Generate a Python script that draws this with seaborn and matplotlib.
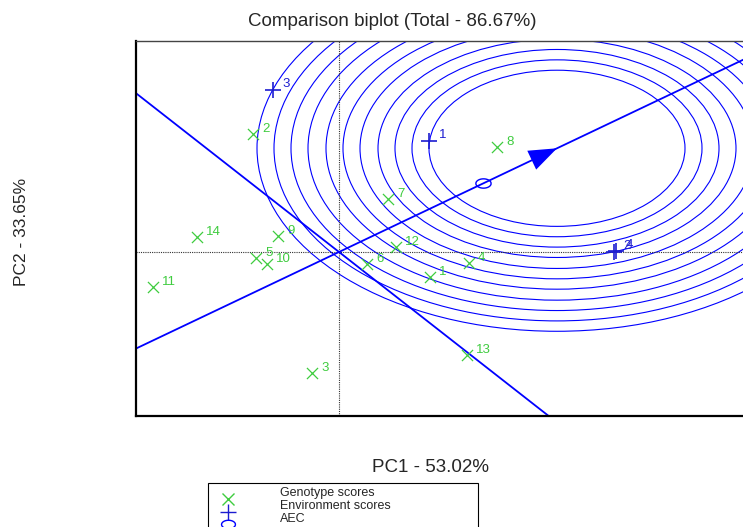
import numpy as np
import pandas as pd
import matplotlib
matplotlib.use("Agg")
import matplotlib.pyplot as plt
import seaborn as sns
from matplotlib.patches import Circle, Rectangle
from matplotlib.lines import Line2D
from matplotlib.path import Path

# ---------------- data ----------------
genotypes = ["1", "2", "3", "4", "5", "6", "7", "8", "9", "10", "11", "12", "13", "14"]
gen_pc1 = [0.91, -0.86, -0.27, 1.30, -0.83, 0.28, 0.49, 1.58, -0.61, -0.72, -1.86, 0.57, 1.28, -1.42]
gen_pc2 = [-0.41, 1.93, -1.98, -0.18, -0.10, -0.20, 0.87, 1.72, 0.26, -0.20, -0.57, 0.08, -1.69, 0.25]

environments = ["1", "2", "3", "4"]
env_pc1 = [0.90, 2.75, -0.66, 2.77]
env_pc2 = [1.82, 0.00, 2.66, 0.02]

aec_mean = [1.44, 1.13]       # average environment (small circle)
ideal_env = [2.18, 1.70]      # ideal environment (arrow head / circle centre)
circle_radii = [1.28, 1.45, 1.62, 1.79, 1.97, 2.14, 2.31, 2.49, 2.66, 2.83, 3.00]

title = "Comparison biplot (Total - 86.67%)"
xlab = "PC1 - 53.02%"
ylab = "PC2 - 33.65%"
legend_labels = ["Genotype scores", "Environment scores", "AEC"]

gen_df = pd.DataFrame({"PC1": gen_pc1, "PC2": gen_pc2, "name": genotypes})
env_df = pd.DataFrame({"PC1": env_pc1, "PC2": env_pc2, "name": environments})

# ---------------- style ----------------
sns.set_style("white")
plt.rcParams["font.family"] = ["Liberation Sans", "DejaVu Sans"]

GREEN = "#3fcc3f"
BLUE = "#0000ff"
EBLUE = "#1c1cd0"

W, H = 743, 527
fig = plt.figure(figsize=(W / 100, H / 100), dpi=100)
ax = fig.add_axes([136 / W, 111 / H, 609 / W, 375 / H])

ax.set_xlim(-2.03, 4.06)
ax.set_ylim(-2.689, 3.459)

# concentric circles around the ideal environment
for r in circle_radii:
    ax.add_patch(Circle(ideal_env, r, fill=False, edgecolor=BLUE, lw=0.8, zorder=1))

# origin dotted lines
ax.axhline(0, color="#333333", ls=(0, (1, 1)), lw=0.8, zorder=1)
ax.axvline(0, color="#333333", ls=(0, (1, 1)), lw=0.8, zorder=1)

# AEC abscissa and ordinate
ax.axline((0, 0), ideal_env, color=BLUE, lw=1.3, zorder=2)
ax.axline((0, 0), slope=-ideal_env[0] / ideal_env[1], color=BLUE, lw=1.3, zorder=2)

# arrow head at the ideal environment
ax.annotate("", xy=ideal_env, xytext=aec_mean,
            arrowprops=dict(arrowstyle="-|>,head_length=0.67,head_width=0.25",
                            mutation_scale=30, color=BLUE, lw=0,
                            shrinkA=0, shrinkB=0), zorder=3)

# AEC mean marker (circle drawn elliptic like the data aspect)
t = np.linspace(0, 2 * np.pi, 40)
ell_marker = Path(np.column_stack([1.64 * np.cos(t), np.sin(t)]))
ax.plot([aec_mean[0]], [aec_mean[1]], marker=ell_marker, ms=11, mfc="none",
        mec=BLUE, mew=1.0, ls="none", zorder=4)

# scores
sns.scatterplot(data=gen_df, x="PC1", y="PC2", marker="x", color=GREEN,
                s=64, linewidth=0.9, ax=ax, zorder=5)
sns.scatterplot(data=env_df, x="PC1", y="PC2", marker="+", color=EBLUE,
                s=130, linewidth=1.2, ax=ax, zorder=5)

for _, row in gen_df.iterrows():
    ax.annotate(row["name"], (row["PC1"], row["PC2"]), xytext=(6.5, 3.6),
                textcoords="offset points", ha="left", va="center",
                fontsize=9.5, color=GREEN, zorder=6)
for _, row in env_df.iterrows():
    ax.annotate(row["name"], (row["PC1"], row["PC2"]), xytext=(7, 4.3),
                textcoords="offset points", ha="left", va="center",
                fontsize=9.5, color=EBLUE, zorder=6)

ax.set_xlabel("")
ax.set_ylabel("")
ax.set_xticks([])
ax.set_yticks([])
for side in ["left", "bottom"]:
    ax.spines[side].set_linewidth(1.6)
    ax.spines[side].set_color("black")
ax.spines["top"].set_linewidth(1.0)
ax.spines["top"].set_color("#444444")
ax.spines["right"].set_visible(False)

# titles / axis labels
fig.text(392 / W, 1 - 21 / H, title, ha="center", va="center", fontsize=13.5)
fig.text(430 / W, 1 - 467 / H, xlab, ha="center", va="center", fontsize=13.5)
fig.text(22 / W, 1 - 232 / H, ylab, ha="center", va="center", fontsize=12.5, rotation=90)

# legend box (cut off by the figure bottom)
fig.patches.append(Rectangle((208 / W, -0.05), (478 - 208) / W, 0.05 + 1 - 483 / H,
                             transform=fig.transFigure, fill=False,
                             edgecolor="black", lw=0.8))
leg_marker_y = [499, 512, 524]
leg_text_y = [493, 506, 519]
leg_markers = [("x", GREEN, 8), ("+", EBLUE, 11), (ell_marker, BLUE, 10)]
for (m, c, ms), my, ty, lab in zip(leg_markers, leg_marker_y, leg_text_y, legend_labels):
    fig.lines.append(Line2D([228 / W], [1 - my / H], marker=m, ms=ms, mfc="none",
                            mec=c, mew=1.0, ls="none", transform=fig.transFigure))
    fig.text(280 / W, 1 - ty / H, lab, ha="left", va="center", fontsize=9)

fig.savefig("out.png", dpi=100)
